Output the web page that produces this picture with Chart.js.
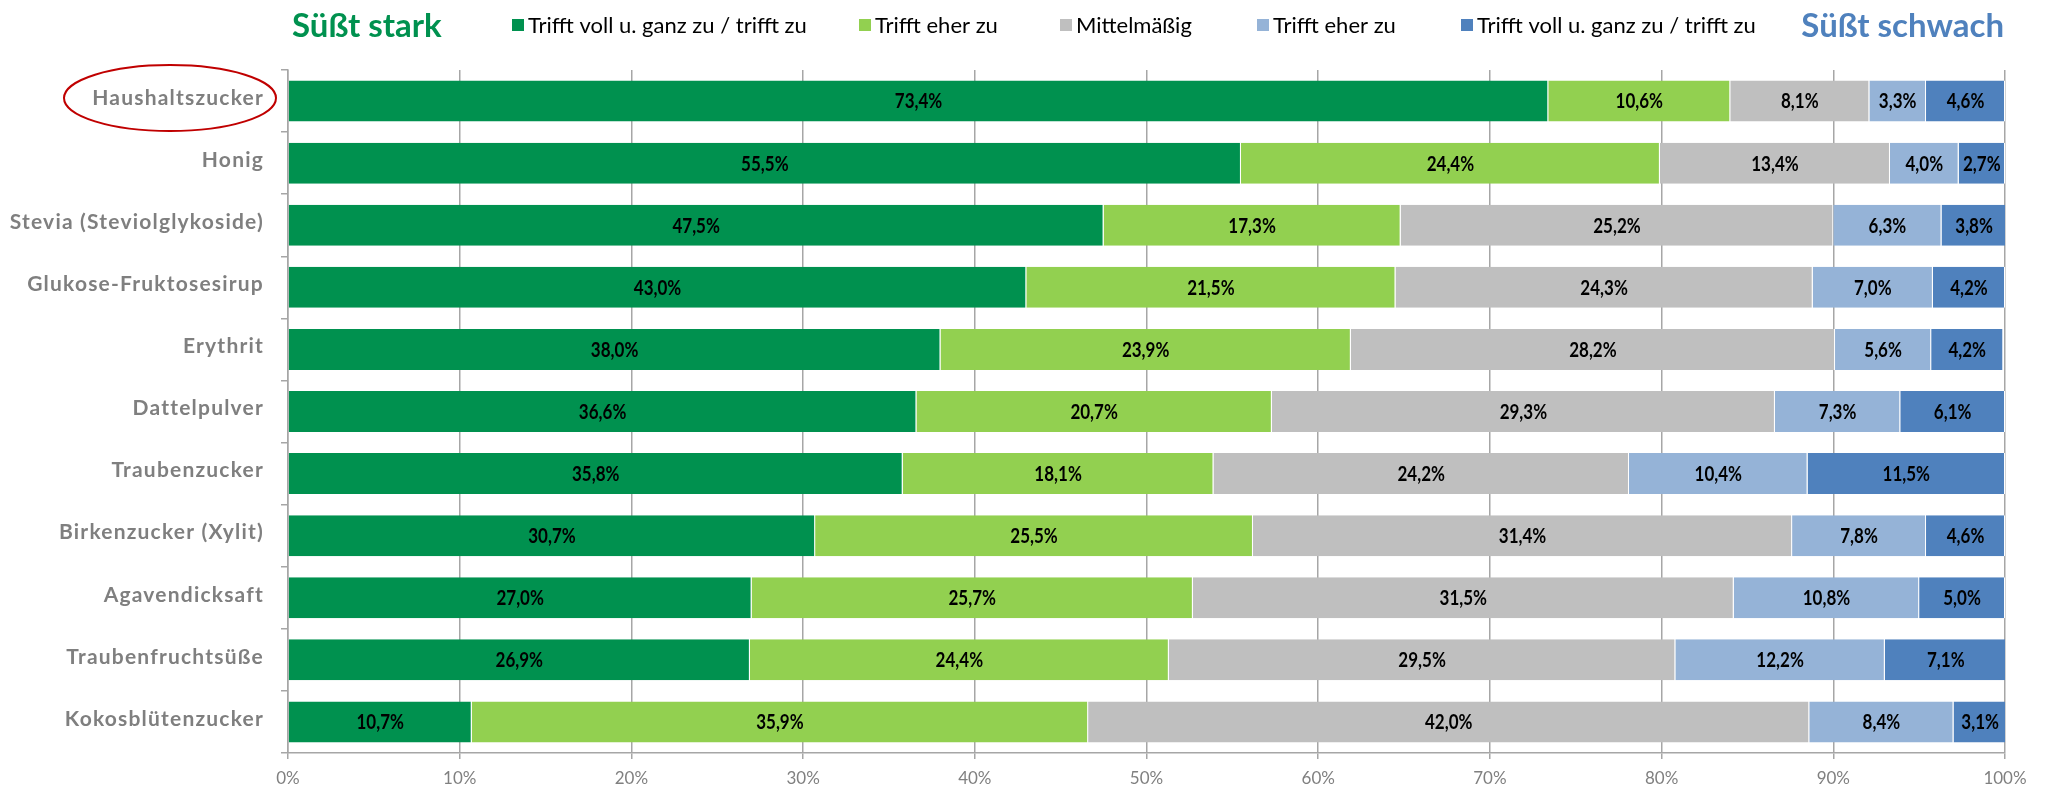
<!DOCTYPE html>
<html>
<head>
<meta charset="utf-8">
<script src="https://cdn.jsdelivr.net/npm/chart.js@4/dist/chart.umd.min.js"></script>
<style>
    body { margin: 0; background: #fff; }
</style>
</head>
<body>
<canvas id="chart" width="2046" height="787"></canvas>
<script>
const categories = [
    'Haushaltszucker', 'Honig', 'Stevia (Steviolglykoside)', 'Glukose-Fruktosesirup',
    'Erythrit', 'Dattelpulver', 'Traubenzucker', 'Birkenzucker (Xylit)',
    'Agavendicksaft', 'Traubenfruchtsüße', 'Kokosblütenzucker'
];
const vollStark   = [73.4, 55.5, 47.5, 43.0, 38.0, 36.6, 35.8, 30.7, 27.0, 26.9, 10.7];
const eherStark   = [10.6, 24.4, 17.3, 21.5, 23.9, 20.7, 18.1, 25.5, 25.7, 24.4, 35.9];
const mittel      = [8.1, 13.4, 25.2, 24.3, 28.2, 29.3, 24.2, 31.4, 31.5, 29.5, 42.0];
const eherSchwach = [3.3, 4.0, 6.3, 7.0, 5.6, 7.3, 10.4, 7.8, 10.8, 12.2, 8.4];
const vollSchwach = [4.6, 2.7, 3.8, 4.2, 4.2, 6.1, 11.5, 4.6, 5.0, 7.1, 3.1];
const xTicks = [0, 10, 20, 30, 40, 50, 60, 70, 80, 90, 100];

const seriesLabels = ['Trifft voll u. ganz zu / trifft zu', 'Trifft eher zu', 'Mittelmäßig', 'Trifft eher zu', 'Trifft voll u. ganz zu / trifft zu'];
const seriesColors = ['#00914F', '#92D050', '#BFBFBF', '#95B3D7', '#4F81BD'];
const seriesData = [vollStark, eherStark, mittel, eherSchwach, vollSchwach];

const gridColor = '#a6a6a6';

// header: titles + legend squares drawn on the canvas
const headerPlugin = {
    id: 'header',
    afterDraw(chart) {
        const ctx = chart.ctx;
        const y = 25;
        ctx.save();
        ctx.textBaseline = 'middle';
        ctx.font = "bold 33px 'Lato', sans-serif";
        ctx.fillStyle = '#00914F';
        ctx.textAlign = 'left';
        ctx.fillText('Süßt stark', 292, y + 1);
        ctx.fillStyle = '#4F81BD';
        ctx.textAlign = 'right';
        ctx.fillText('Süßt schwach', 2004, y + 1);

        const squareX = [512, 859, 1060, 1257, 1461];
        ctx.font = "22px 'Lato', sans-serif";
        ctx.textAlign = 'left';
        chart.data.datasets.forEach((ds, i) => {
            ctx.fillStyle = ds.backgroundColor;
            ctx.fillRect(squareX[i], y - 6, 12, 12);
            ctx.fillStyle = '#000';
            ctx.fillText(ds.label, squareX[i] + 16, y + 1);
        });

        // red ellipse around first category
        const yPos = chart.scales.y.getPixelForValue(0);
        ctx.strokeStyle = '#C00000';
        ctx.lineWidth = 2;
        ctx.beginPath();
        ctx.ellipse(chart.scales.y.right - 118, yPos - 3, 106, 33, 0, 0, Math.PI * 2);
        ctx.stroke();
        ctx.restore();
    }
};

// category labels with letter spacing (Chart.js ticks can't do that)
const yLabels = {
    id: 'yLabels',
    afterDraw(chart) {
        const ctx = chart.ctx;
        const sc = chart.scales.y;
        ctx.save();
        ctx.font = "bold 21px 'Lato', sans-serif";
        ctx.letterSpacing = '1.2px';
        ctx.fillStyle = '#7f7f7f';
        ctx.textAlign = 'right';
        ctx.textBaseline = 'middle';
        chart.data.labels.forEach((lab, i) => {
            ctx.fillText(lab, sc.right - 24, sc.getPixelForValue(i) - 3);
        });
        ctx.restore();
    }
};

const valueLabels = {
    id: 'valueLabels',
    afterDatasetsDraw(chart) {
        const ctx = chart.ctx;
        ctx.save();
        ctx.font = "bold 20px 'Lato', sans-serif";
        ctx.fillStyle = '#000';
        ctx.textAlign = 'center';
        ctx.textBaseline = 'middle';
        chart.data.datasets.forEach((ds, i) => {
            chart.getDatasetMeta(i).data.forEach((bar, j) => {
                const v = ds.data[j];
                const cx = (bar.x + bar.base) / 2;
                ctx.save();
                ctx.translate(cx, bar.y + 1);
                ctx.scale(0.85, 1);
                ctx.fillText(v.toFixed(1).replace('.', ',') + '%', 0, 0);
                ctx.restore();
            });
        });
        ctx.restore();
    }
};

new Chart(document.getElementById('chart'), {
    type: 'bar',
    data: {
        labels: categories,
        datasets: seriesData.map((d, i) => ({
            label: seriesLabels[i],
            data: d,
            backgroundColor: seriesColors[i],
            borderColor: '#ffffff',
            borderWidth: { right: 1 },
            borderSkipped: false,
            barPercentage: 0.66,
            categoryPercentage: 1
        }))
    },
    options: {
        indexAxis: 'y',
        responsive: false,
        animation: false,
        layout: { padding: { top: 70, right: 41, left: 0, bottom: 0 } },
        plugins: {
            legend: { display: false },
            tooltip: { enabled: false }
        },
        scales: {
            x: {
                stacked: true,
                min: 0,
                max: 100,
                afterBuildTicks: axis => { axis.ticks = xTicks.map(v => ({ value: v })); },
                afterFit: axis => { axis.height = 34; },
                grid: { color: gridColor, lineWidth: 1.5, tickLength: 6 },
                border: { color: gridColor, width: 1.5 },
                ticks: {
                    padding: 9,
                    color: '#808080',
                    font: { family: "'Lato', sans-serif", size: 17 },
                    callback: v => v + '%'
                }
            },
            y: {
                stacked: true,
                afterFit: axis => { axis.width = 288; },
                grid: { drawOnChartArea: false, color: gridColor, lineWidth: 1.5, tickLength: 7, offset: true },
                border: { color: gridColor, width: 1.5 },
                ticks: { display: false }
            }
        }
    },
    plugins: [headerPlugin, yLabels, valueLabels]
});
</script>
</body>
</html>
